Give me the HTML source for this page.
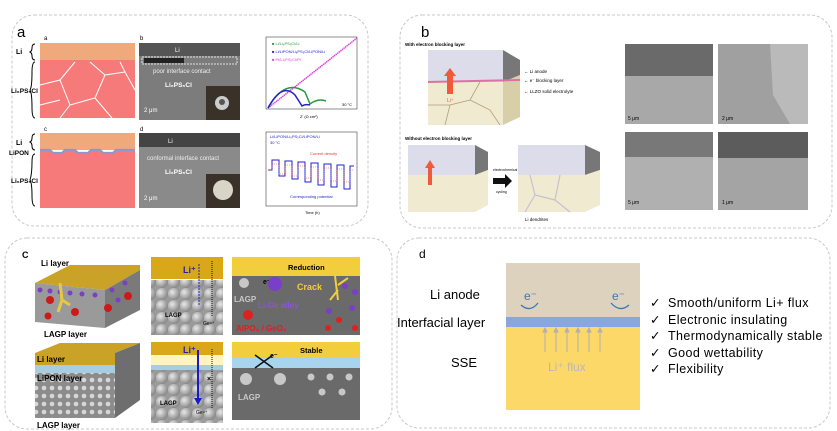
<!DOCTYPE html>
<html><head><meta charset="utf-8"><style>
html,body{margin:0;padding:0;background:#fff;}
svg{display:block;font-family:"Liberation Sans",Arial,sans-serif;}
</style></head><body>
<svg width="837" height="431" viewBox="0 0 837 431" xmlns="http://www.w3.org/2000/svg">
<defs>
<radialGradient id="sph" cx="35%" cy="35%" r="65%"><stop offset="0" stop-color="#e8e8e8"/><stop offset="1" stop-color="#8a8a8a"/></radialGradient>
<pattern id="balls" width="12" height="12" patternUnits="userSpaceOnUse"><rect width="12" height="12" fill="#9a9a9a"/><circle cx="6" cy="6" r="6" fill="url(#sph)"/></pattern>
<pattern id="dots" width="8" height="8" patternUnits="userSpaceOnUse"><rect width="8" height="8" fill="#8c8c8c"/><circle cx="4" cy="4" r="2.3" fill="#d8d8d8"/></pattern>
</defs>
<g fill="none" stroke="#c8c8c8" stroke-dasharray="3,2">
<rect x="12" y="15" width="356" height="211" rx="22"/>
<rect x="400" y="15" width="432" height="213" rx="22"/>
<rect x="5" y="238" width="387" height="191" rx="22"/>
<rect x="397" y="238" width="433" height="190" rx="22"/>
</g>

<!-- Panel a -->
<text x="17" y="37" font-size="15">a</text>
<text x="44" y="40" font-size="6">a</text>
<rect x="40" y="43" width="95" height="17" fill="#f0a97a"/>
<rect x="40" y="60" width="95" height="58" fill="#f77a7a"/>
<g stroke="#fff" stroke-width="1" fill="none">
<path d="M40 85 L60 80 L75 62 M60 80 L70 105 L95 98 L105 75 L90 62 M105 75 L125 72 L120 62 M125 72 L135 90 M95 98 L112 118 M70 105 L60 118 M40 105 L60 100"/>
<path d="M40 175 L62 168 L72 152 M62 168 L72 192 L98 184 L108 160 L95 152 M108 160 L128 158 L122 152 M128 158 L135 178 M98 184 L115 208 M72 192 L62 208"/>
</g>
<text x="16" y="54" font-size="7" font-weight="bold">Li</text>
<path d="M35 44 q-3 0 -3 4 q0 3 -2 4 q2 1 2 4 q0 4 3 4" fill="none" stroke="#000"/>
<path d="M35 62 q-3 0 -3 10 q0 15 -2 18 q2 3 2 18 q0 10 3 10" fill="none" stroke="#000"/>
<text x="11" y="93" font-size="6.5" font-weight="bold">Li₆PS₅Cl</text>
<text x="44" y="131" font-size="6">c</text>
<rect x="40" y="133" width="95" height="17" fill="#f0a97a"/>
<path d="M40 150 L50 150 L53 153 L62 153 L65 150 L75 150 L78 153 L88 153 L91 150 L100 150 L103 153 L113 153 L116 150 L135 150 L135 208 L40 208 Z" fill="#f77a7a"/>
<path d="M40 150 L50 150 L53 153 L62 153 L65 150 L75 150 L78 153 L88 153 L91 150 L100 150 L103 153 L113 153 L116 150 L135 150" fill="none" stroke="#8f97c8" stroke-width="2.2"/>
<text x="16" y="145" font-size="7" font-weight="bold">Li</text>
<path d="M35 134 q-3 0 -3 4 q0 3 -2 4 q2 1 2 4 q0 4 3 4" fill="none" stroke="#000"/>
<text x="9" y="155" font-size="6.5" font-weight="bold">LiPON</text>
<path d="M35 154 q-3 0 -3 8 q0 12 -2 18 q2 3 2 16 q0 10 3 10" fill="none" stroke="#000"/>
<text x="11" y="183" font-size="6.5" font-weight="bold">Li₆PS₅Cl</text>
<text x="140" y="40" font-size="6">b</text>
<rect x="139" y="43" width="101" height="77" fill="#7c7c7c"/>
<rect x="139" y="43" width="101" height="13" fill="#555"/>
<rect x="142" y="57" width="95" height="7" fill="none" stroke="#fff" stroke-dasharray="2,1" stroke-width="0.8"/>
<rect x="144" y="58" width="40" height="5" fill="#222"/>
<text x="175" y="52" font-size="6" fill="#fff">Li</text>
<text x="153" y="73" font-size="6" fill="#eee">poor interface contact</text>
<text x="165" y="87" font-size="6.5" fill="#fff" font-weight="bold">Li₆PS₅Cl</text>
<text x="144" y="112" font-size="6" fill="#fff">2 μm</text>
<rect x="206" y="86" width="34" height="34" fill="#3a3228"/>
<circle cx="222" cy="103" r="7" fill="#ccc"/><circle cx="222" cy="102" r="3" fill="#555"/>
<text x="140" y="131" font-size="6">d</text>
<rect x="139" y="133" width="101" height="75" fill="#8a8a8a"/>
<rect x="139" y="133" width="101" height="14" fill="#444"/>
<text x="168" y="143" font-size="6" fill="#fff">Li</text>
<text x="147" y="160" font-size="6" fill="#eee">conformal interface contact</text>
<text x="165" y="174" font-size="6.5" fill="#fff" font-weight="bold">Li₆PS₅Cl</text>
<text x="144" y="200" font-size="6" fill="#fff">2 μm</text>
<rect x="206" y="174" width="34" height="34" fill="#3a3228"/>
<circle cx="223" cy="190" r="10" fill="#d8d4c8"/>
<rect x="266" y="37" width="91" height="72" fill="none" stroke="#444" stroke-width="0.6"/>
<path d="M268 108 L357 38" stroke="#e040e0" stroke-width="1.5" stroke-dasharray="1.5,0.5"/>
<path d="M268 108 Q285 78 305 92 L310 104 Q318 98 326 101" fill="none" stroke="#2a9a3a" stroke-width="1.5"/>
<path d="M268 108 Q282 82 295 95 L302 106 Q305 104 310 105" fill="none" stroke="#2222cc" stroke-width="1.5"/>
<text x="272" y="45" font-size="4" fill="#2a9a3a">■ Li/Li₆PS₅Cl/Li</text>
<text x="272" y="53" font-size="4" fill="#2222cc">■ Li/LiPON/Li₆PS₅Cl/LiPON/Li</text>
<text x="272" y="61" font-size="4" fill="#e040e0">■ Pt/Li₆PS₅Cl/Pt</text>
<text x="342" y="106" font-size="4">30 °C</text>
<text x="300" y="118" font-size="4">Z' (Ω cm²)</text>
<rect x="266" y="132" width="91" height="74" fill="none" stroke="#444" stroke-width="0.6"/>
<path d="M268 170 h4 v-10 h7 v16 h6 v-15 h7 v18 h6 v-17 h7 v20 h6 v-19 h7 v22 h6 v-21 h7 v23 h6 v-22 h7 v24 h6 v-23 h4" fill="none" stroke="#2222cc" stroke-width="1"/>
<path d="M268 170 h4 v-6 h7 v10 h6 v-9 h7 v11 h6 v-10 h7 v12 h6 v-11 h7 v13 h6 v-12 h7 v13 h6 v-12 h7 v13 h6 v-12 h4" fill="none" stroke="#e04040" stroke-width="0.6" stroke-dasharray="1,1"/>
<text x="270" y="138" font-size="4" fill="#2222cc">Li/LiPON/Li₆PS₅Cl/LiPON/Li</text>
<text x="270" y="144" font-size="4" fill="#2222cc">30 °C</text>
<text x="310" y="155" font-size="4" fill="#e04040">Current density</text>
<text x="290" y="198" font-size="4" fill="#2222cc">Corresponding potential</text>
<text x="305" y="214" font-size="4">Time (h)</text>

<!-- Panel b -->
<text x="421" y="37" font-size="15">b</text>
<text x="405" y="46" font-size="4.5" font-weight="bold">With electron blocking layer</text>
<polygon points="428,60 503,60 520,70 520,115 503,125 428,125" fill="#f0ead0"/>
<polygon points="428,50 503,50 503,82 428,82" fill="#dcdcea"/>
<polygon points="503,50 520,60 520,75 503,82" fill="#777"/>
<polygon points="503,82 520,75 520,117 503,125" fill="#d8cfa8"/>
<line x1="428" y1="82" x2="520" y2="80" stroke="#e070a0" stroke-width="2"/>
<path d="M445 125 L450 105 L470 100 L480 82 M470 100 L490 110 L500 125 M428 105 L450 105" fill="none" stroke="#b0a078" stroke-width="0.8"/>
<polygon points="447,94 447,76 444,76 450,68 456,76 453,76 453,94" fill="#f05a3a"/>
<text x="447" y="102" font-size="5" fill="#f05a3a">Li⁺</text>
<text x="524" y="73" font-size="4.5">← Li anode</text>
<text x="524" y="82" font-size="4.5">← e⁻ blocking layer</text>
<text x="524" y="93" font-size="4.5">← LLZO solid electrolyte</text>
<text x="405" y="140" font-size="4.5" font-weight="bold">Without electron blocking layer</text>
<polygon points="408,145 475,145 475,175 408,175" fill="#dcdcea"/>
<polygon points="475,145 488,152 488,170 475,175" fill="#777"/>
<polygon points="408,175 475,175 488,170 488,205 475,212 408,212" fill="#f0ead0"/>
<polygon points="428,185 428,168 425,168 430,160 435,168 432,168 432,185" fill="#f05a3a"/>
<polygon points="493,178 505,178 505,174 512,181 505,188 505,184 493,184" fill="#111"/>
<text x="493" y="171" font-size="3.5">electrochemical</text>
<text x="496" y="193" font-size="3.5">cycling</text>
<polygon points="518,145 585,145 585,175 518,175" fill="#dcdcea"/>
<polygon points="585,145 600,152 600,170 585,175" fill="#777"/>
<polygon points="518,175 585,175 600,170 600,205 585,212 518,212" fill="#f0ead0"/>
<path d="M530 175 L535 195 L555 200 L560 175 M535 195 L525 212 M555 200 L570 212" fill="none" stroke="#c8c0d0" stroke-width="1.2"/>
<text x="525" y="221" font-size="4.5">Li dendrites</text>
<rect x="625" y="44" width="88" height="80" fill="#a8a8a8"/>
<rect x="625" y="44" width="88" height="32" fill="#6a6a6a"/>
<text x="628" y="120" font-size="5" fill="#000">5 μm</text>
<rect x="718" y="44" width="90" height="80" fill="#a0a0a0"/>
<path d="M770 44 L773 95 L790 124 L808 124 L808 44 Z" fill="#bababa"/>
<text x="722" y="120" font-size="5" fill="#000">2 μm</text>
<rect x="625" y="132" width="88" height="78" fill="#b0b0b0"/>
<rect x="625" y="132" width="88" height="25" fill="#787878"/>
<text x="628" y="204" font-size="5">5 μm</text>
<rect x="718" y="132" width="90" height="78" fill="#a4a4a4"/>
<rect x="718" y="132" width="90" height="26" fill="#5c5c5c"/>
<text x="722" y="204" font-size="5">1 μm</text>

<!-- Panel c -->
<text x="22" y="258" font-size="9" font-weight="bold">C</text>
<text x="41" y="266" font-size="8" font-weight="bold">Li layer</text>
<polygon points="35,283 70,265 140,265 140,270 105,290" fill="#c9a227"/>
<polygon points="35,283 105,290 105,328 35,322" fill="#9a9a9a"/>
<polygon points="105,290 140,270 140,310 105,328" fill="#7a7a7a"/>
<g fill="#7a3fc8"><circle cx="40" cy="290" r="2.5"/><circle cx="50" cy="291" r="2.5"/><circle cx="60" cy="292" r="2.5"/><circle cx="70" cy="293" r="2.5"/><circle cx="82" cy="294" r="2.5"/><circle cx="95" cy="295" r="2.5"/><circle cx="112" cy="290" r="2.5"/><circle cx="125" cy="283" r="2.5"/><circle cx="118" cy="300" r="2.5"/></g>
<g fill="#cc1a1a"><circle cx="50" cy="300" r="4"/><circle cx="75" cy="312" r="4"/><circle cx="108" cy="308" r="4"/><circle cx="128" cy="296" r="4"/><circle cx="48" cy="316" r="3.5"/></g>
<path d="M60 283 L62 300 L58 312 M62 300 L70 305" stroke="#e8c840" stroke-width="3" fill="none"/>
<text x="44" y="337" font-size="8" font-weight="bold">LAGP layer</text>
<polygon points="35,353 60,343 140,343 115,353" fill="#c9a227"/>
<rect x="35" y="353" width="80" height="12" fill="#c9a227"/>
<rect x="35" y="365" width="80" height="8" fill="#a8cde0"/>
<rect x="35" y="373" width="80" height="45" fill="url(#dots)"/>
<polygon points="115,353 140,343 140,400 115,418" fill="#6e6e6e"/>
<text x="37" y="362" font-size="8" font-weight="bold">Li layer</text>
<text x="37" y="381" font-size="8" font-weight="bold">LiPON layer</text>
<text x="37" y="428" font-size="8" font-weight="bold">LAGP layer</text>
<rect x="151" y="257" width="72" height="22" fill="#d8a818"/>
<rect x="151" y="280" width="72" height="55" fill="url(#balls)"/>
<text x="183" y="273" font-size="9" font-weight="bold" fill="#2222aa">Li⁺</text>
<line x1="199" y1="264" x2="199" y2="305" stroke="#2222cc" stroke-dasharray="2,1"/>
<line x1="212" y1="316" x2="212" y2="260" stroke="#111" stroke-dasharray="1,1"/>
<text x="165" y="317" font-size="6" font-weight="bold">LAGP</text>
<text x="203" y="325" font-size="5">Ge⁴⁺</text>
<rect x="151" y="342" width="72" height="13" fill="#d8a818"/>
<rect x="151" y="355" width="72" height="10" fill="#fdf5c0"/>
<rect x="151" y="365" width="72" height="5" fill="#a8cde0"/>
<rect x="151" y="370" width="72" height="53" fill="url(#balls)"/>
<text x="183" y="353" font-size="9" font-weight="bold" fill="#2222aa">Li⁺</text>
<line x1="198" y1="350" x2="198" y2="400" stroke="#1a1acc" stroke-width="2"/>
<polygon points="194,398 202,398 198,405" fill="#1a1acc"/>
<line x1="212" y1="408" x2="212" y2="348" stroke="#111" stroke-dasharray="1,1"/>
<text x="207" y="381" font-size="7" font-weight="bold">×</text>
<text x="160" y="405" font-size="6" font-weight="bold">LAGP</text>
<text x="196" y="414" font-size="5">Ge⁴⁺</text>
<rect x="232" y="257" width="128" height="19" fill="#f2cd3c"/>
<rect x="232" y="276" width="128" height="59" fill="#6a6a6a"/>
<text x="288" y="270" font-size="7.5" font-weight="bold">Reduction</text>
<text x="263" y="284" font-size="7" font-weight="bold">e⁻</text>
<circle cx="244" cy="283" r="5" fill="#c8c8c8"/>
<circle cx="275" cy="284" r="7" fill="#7a3fc8"/>
<circle cx="248" cy="315" r="5" fill="#dd2020"/>
<text x="297" y="290" font-size="9" font-weight="bold" fill="#f2cd3c">Crack</text>
<text x="234" y="302" font-size="8" font-weight="bold" fill="#c8c8c8">LAGP</text>
<text x="258" y="308" font-size="8" font-weight="bold" fill="#8855dd">Li-Ge alloy</text>
<text x="236" y="331" font-size="8" font-weight="bold" fill="#dd2020">AlPO₄ / GeO₂</text>
<path d="M335 276 L338 300 M338 285 L348 278 M338 290 L330 300" stroke="#f2cd3c" stroke-width="2" fill="none"/>
<g fill="#7a3fc8"><circle cx="345" cy="286" r="3"/><circle cx="355" cy="292" r="3"/><circle cx="329" cy="311" r="3"/><circle cx="352" cy="308" r="3"/></g>
<g fill="#dd2020"><circle cx="339" cy="320" r="3"/><circle cx="328" cy="328" r="3"/><circle cx="355" cy="328" r="3"/></g>
<rect x="232" y="342" width="128" height="16" fill="#f2cd3c"/>
<rect x="232" y="358" width="128" height="10" fill="#a8d4ee"/>
<rect x="232" y="368" width="128" height="52" fill="#6a6a6a"/>
<text x="300" y="353" font-size="7.5" font-weight="bold">Stable</text>
<text x="270" y="358" font-size="7" font-weight="bold">e⁻</text>
<path d="M255 368 L273 355 M255 355 L273 368" stroke="#111" stroke-width="1.5"/>
<g fill="#c8c8c8"><circle cx="246" cy="379" r="6"/><circle cx="280" cy="379" r="6"/><circle cx="311" cy="377" r="3.5"/><circle cx="330" cy="377" r="3.5"/><circle cx="349" cy="377" r="3.5"/><circle cx="322" cy="392" r="3.5"/><circle cx="342" cy="392" r="3.5"/></g>
<text x="238" y="400" font-size="8" font-weight="bold" fill="#c8c8c8">LAGP</text>

<!-- Panel d -->
<text x="419" y="258" font-size="12">d</text>
<rect x="506" y="263" width="134" height="54" fill="#dcd2bd"/>
<rect x="506" y="317" width="134" height="10" fill="#86a8de"/>
<rect x="506" y="327" width="134" height="83" fill="#fbd868"/>
<g stroke="#b0b0b0" stroke-width="1" fill="#b0b0b0">
<line x1="545" y1="352" x2="545" y2="331"/><line x1="556" y1="352" x2="556" y2="331"/><line x1="567" y1="352" x2="567" y2="331"/><line x1="578" y1="352" x2="578" y2="331"/><line x1="589" y1="352" x2="589" y2="331"/><line x1="600" y1="352" x2="600" y2="331"/>
<path d="M543 332 L545 328 L547 332 Z M554 332 L556 328 L558 332 Z M565 332 L567 328 L569 332 Z M576 332 L578 328 L580 332 Z M587 332 L589 328 L591 332 Z M598 332 L600 328 L602 332 Z"/>
</g>
<text x="548" y="371" font-size="12" fill="#b8b8b8">Li⁺ flux</text>
<text x="524" y="300" font-size="12" fill="#3a78b8">e⁻</text>
<text x="612" y="300" font-size="12" fill="#3a78b8">e⁻</text>
<path d="M538 303 Q530 313 521 305" fill="none" stroke="#3a78b8" stroke-width="1.3"/>
<path d="M629 305 Q620 313 611 303" fill="none" stroke="#3a78b8" stroke-width="1.3"/>
<text x="430" y="299" font-size="13">Li anode</text>
<text x="397" y="327" font-size="13">Interfacial layer</text>
<text x="451" y="367" font-size="13">SSE</text>
<g font-size="12.5">
<text x="650" y="307">✓</text><text x="668" y="307" letter-spacing="0.4">Smooth/uniform  Li+ flux</text>
<text x="650" y="324">✓</text><text x="668" y="324" letter-spacing="0.4">Electronic insulating</text>
<text x="650" y="340">✓</text><text x="668" y="340" letter-spacing="0.4">Thermodynamically stable</text>
<text x="650" y="357">✓</text><text x="668" y="357" letter-spacing="0.4">Good wettability</text>
<text x="650" y="373">✓</text><text x="668" y="373" letter-spacing="0.4">Flexibility</text>
</g>
</svg>
</body></html>
